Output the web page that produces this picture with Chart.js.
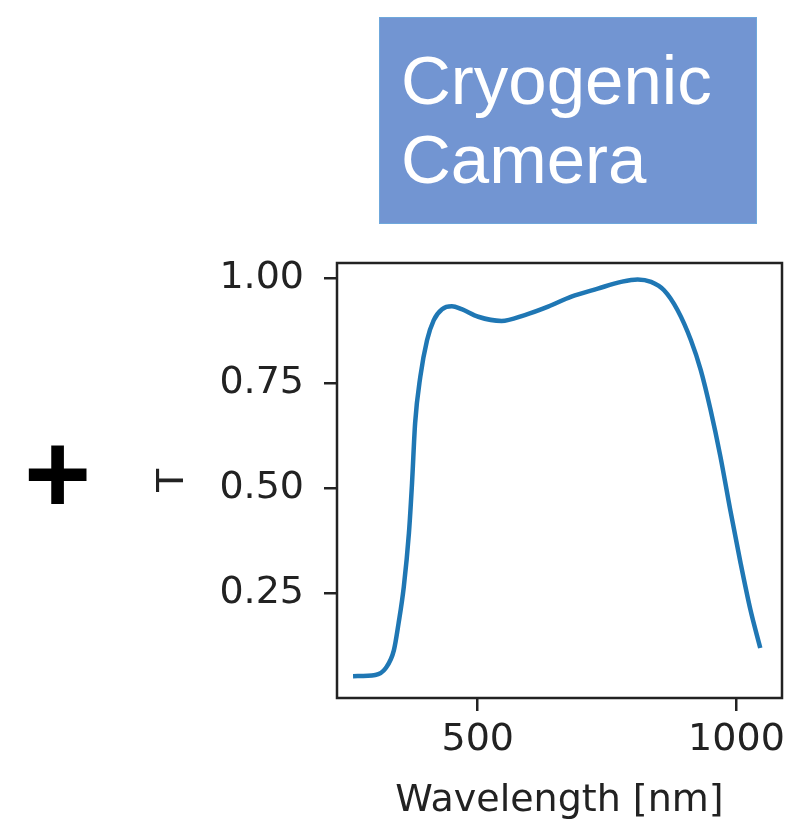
<!DOCTYPE html>
<html>
<head>
<meta charset="utf-8">
<script src="https://cdn.jsdelivr.net/npm/chart.js@4"></script>
<style>
  body { margin: 0; background: #fff; }
  #wrap { position: relative; width: 795px; height: 821px; overflow: hidden; }
  #chart { position: absolute; left: 0; top: 0; }
  .label-box {
    position: absolute; left: 379px; top: 17px; width: 378px; height: 207px;
    box-sizing: border-box; padding: 23px 0 0 21px;
    background: #7295d2; border: 1px solid #6fa8dc;
    color: #fff; font-family: "Liberation Sans", Arial, sans-serif;
    font-size: 69px; line-height: 79px;
  }
  .plus {
    position: absolute; left: 24px; top: 403px;
    font-family: "Liberation Sans", Arial, sans-serif; font-weight: bold;
    font-size: 115px; line-height: 140px; color: #000;
  }
</style>
</head>
<body>
<div id="wrap">
  <canvas id="chart" width="795" height="821"></canvas>
  <div class="label-box">Cryogenic<br>Camera</div>
  <div class="plus">+</div>
</div>
<script>
// transmission curve
const wavelength = [259, 302, 322, 338, 347, 357, 367, 373, 379, 389, 402, 415, 431, 450, 469,
  501, 546, 591, 636, 681, 732, 777, 809, 835, 860, 886, 912, 931, 950, 969, 988, 1008, 1027, 1046];
const transmission = [0.052, 0.055, 0.071, 0.114, 0.178, 0.264, 0.393, 0.512, 0.655, 0.765, 0.852,
  0.900, 0.926, 0.933, 0.926, 0.908, 0.898, 0.912, 0.932, 0.956, 0.975, 0.991, 0.997, 0.991, 0.971,
  0.924, 0.852, 0.781, 0.686, 0.575, 0.448, 0.321, 0.210, 0.119];

const xTicks = [500, 1000];
const yTicks = [0.25, 0.5, 0.75, 1.0];

const axisColor = "#222";
const textColor = "#222";
const fontFamily = "'DejaVu Sans', sans-serif";

// matplotlib style box around the plot area
const frame = {
  id: "frame",
  afterDatasetsDraw(chart) {
    const { ctx, chartArea: a } = chart;
    ctx.save();
    ctx.strokeStyle = axisColor;
    ctx.lineWidth = 2.5;
    ctx.strokeRect(a.left, a.top, a.right - a.left, a.bottom - a.top);
    ctx.restore();
  },
};

new Chart(document.getElementById("chart"), {
  type: "line",
  data: {
    datasets: [{
      data: wavelength.map((w, i) => ({ x: w, y: transmission[i] })),
      borderColor: "#1f77b4",
      borderWidth: 4.5,
      pointRadius: 0,
      cubicInterpolationMode: "monotone",
      fill: false,
    }],
  },
  options: {
    responsive: false,
    animation: false,
    layout: { padding: { top: 263, right: 13, left: 0, bottom: 0 } },
    plugins: { legend: { display: false }, tooltip: { enabled: false } },
    scales: {
      x: {
        type: "linear",
        min: 228,
        max: 1088,
        afterBuildTicks: (s) => { s.ticks = xTicks.map((v) => ({ value: v })); },
        afterFit: (s) => { s.height = 123; },
        grid: { drawOnChartArea: false, drawTicks: true, tickLength: 13, color: axisColor, lineWidth: 2.5 },
        border: { display: false },
        ticks: {
          color: textColor, font: { family: fontFamily, size: 38 }, padding: 6, maxRotation: 0,
          callback: (v) => String(v),
        },
        title: {
          display: true, text: "Wavelength [nm]", color: textColor,
          font: { family: fontFamily, size: 38, lineHeight: 1.0 }, padding: { top: 0, bottom: 1 },
        },
      },
      y: {
        type: "linear",
        min: 0.0,
        max: 1.036,
        afterBuildTicks: (s) => { s.ticks = yTicks.map((v) => ({ value: v })); },
        afterFit: (s) => { s.width = 337; },
        grid: { drawOnChartArea: false, drawTicks: true, tickLength: 13, color: axisColor, lineWidth: 2.5 },
        border: { display: false },
        ticks: {
          color: textColor, font: { family: fontFamily, size: 38 }, padding: 20,
          callback: (v) => v.toFixed(2),
        },
        title: {
          display: true, text: "T", color: textColor,
          font: { family: fontFamily, size: 38 }, padding: { top: 150, bottom: 0 },
        },
      },
    },
  },
  plugins: [frame],
});
</script>
</body>
</html>
